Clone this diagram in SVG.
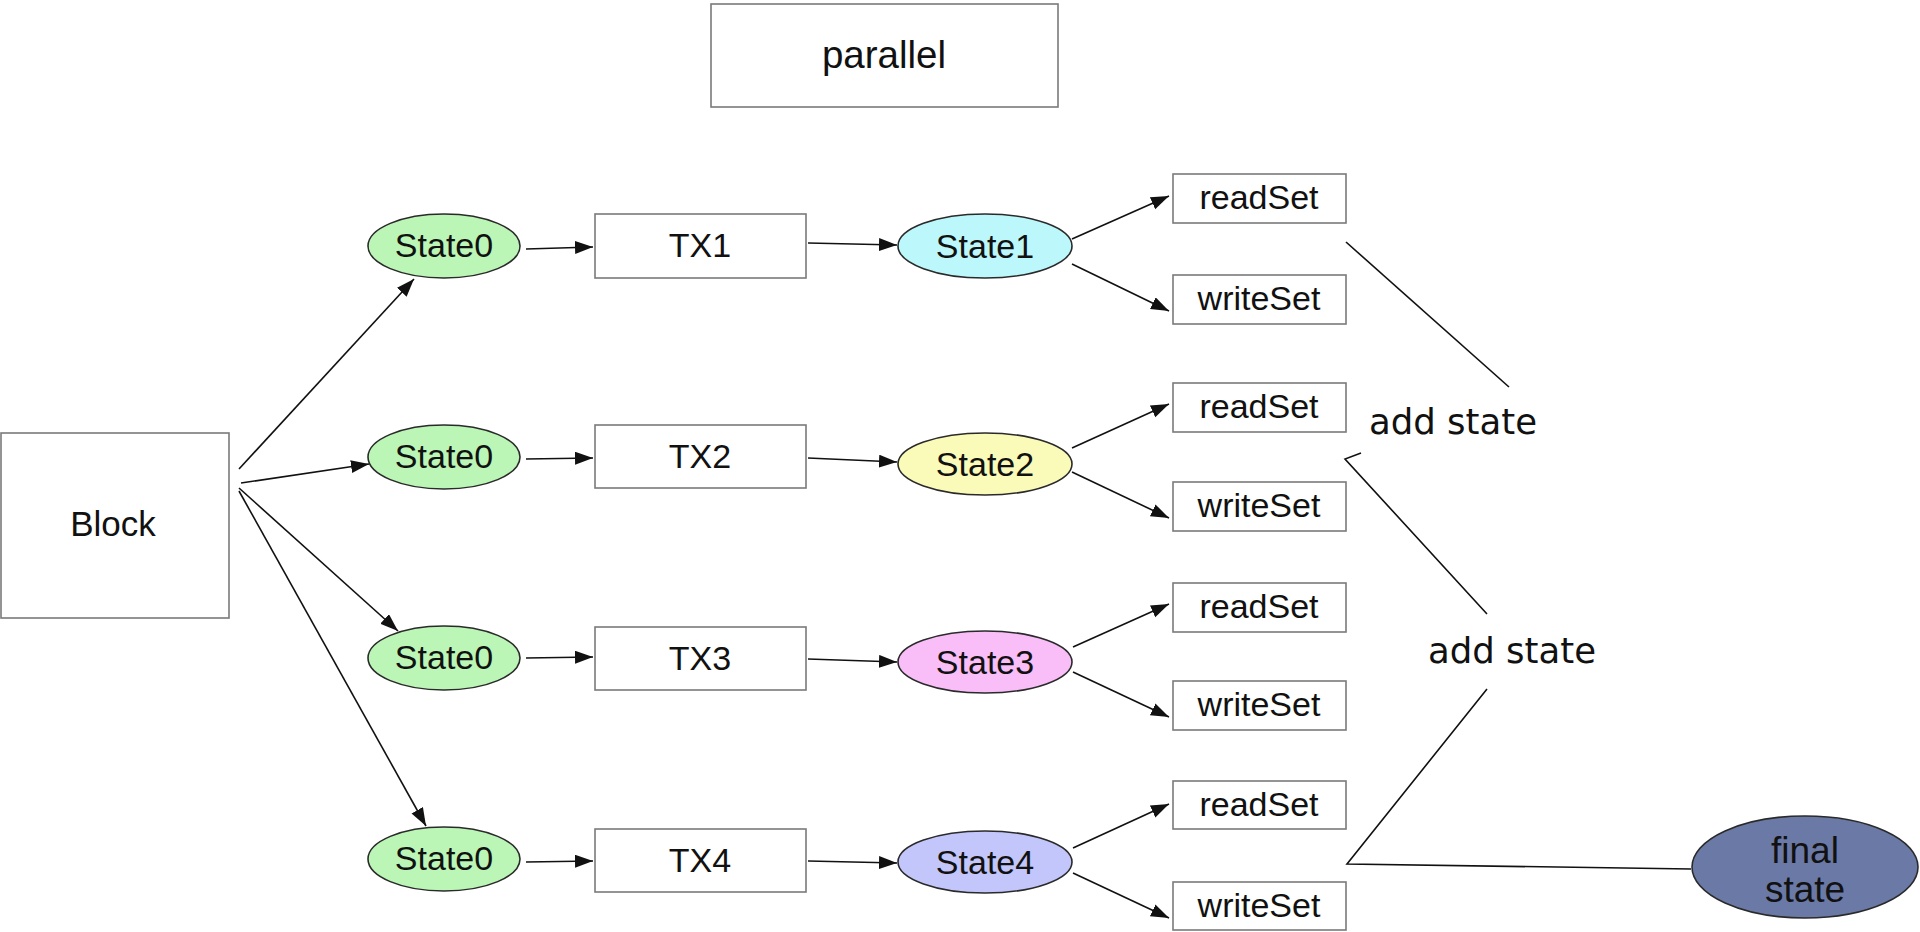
<svg xmlns="http://www.w3.org/2000/svg" width="1920" height="932" viewBox="0 0 1920 932">
<defs>
<style>
.box{fill:#fff;stroke:#7a7a7a;stroke-width:1.6}
.ell{stroke:#2a2a2a;stroke-width:1.6}
.t{font-family:"Liberation Sans",Arial,Helvetica,sans-serif;font-size:34px;fill:#111;text-anchor:middle}
.big{font-family:"DejaVu Sans","Liberation Sans",sans-serif;font-size:35.5px;fill:#111;text-anchor:middle}
.e{stroke:#111;stroke-width:1.6;fill:none}
.a{stroke:#111;stroke-width:1.6;fill:none;marker-end:url(#arr)}
.s0{fill:#bbf6b6}
.s1{fill:#bcf8fb}
.s2{fill:#fafab9}
.s3{fill:#f9bdf8}
.s4{fill:#c2c6fa}
.fin{fill:#6a79a6}
</style>
<marker id="arr" markerUnits="userSpaceOnUse" markerWidth="19" markerHeight="14" refX="18" refY="6.5" orient="auto">
<path d="M0,0 L18,6.5 L0,13 z" fill="#111"/>
</marker>
</defs>
<rect width="1920" height="932" fill="#fff"/>

<g id="connectors">
<line class="a" x1="239" y1="469" x2="414" y2="279"/>
<line class="a" x1="241" y1="483" x2="369" y2="464"/>
<line class="a" x1="239" y1="488" x2="398" y2="631"/>
<line class="a" x1="239" y1="491" x2="426" y2="826"/>

<line class="a" x1="526" y1="249" x2="593" y2="247"/>
<line class="a" x1="526" y1="459" x2="593" y2="458"/>
<line class="a" x1="526" y1="658" x2="593" y2="657"/>
<line class="a" x1="526" y1="862" x2="593" y2="861"/>

<line class="a" x1="808" y1="243" x2="897" y2="245"/>
<line class="a" x1="808" y1="458" x2="897" y2="462"/>
<line class="a" x1="808" y1="659" x2="897" y2="662"/>
<line class="a" x1="808" y1="861" x2="897" y2="863"/>

<line class="a" x1="1072" y1="239" x2="1169" y2="196"/>
<line class="a" x1="1072" y1="264" x2="1169" y2="311"/>
<line class="a" x1="1072" y1="448" x2="1169" y2="404"/>
<line class="a" x1="1072" y1="472" x2="1169" y2="518"/>
<line class="a" x1="1073" y1="647" x2="1169" y2="604"/>
<line class="a" x1="1073" y1="672" x2="1169" y2="717"/>
<line class="a" x1="1073" y1="848" x2="1169" y2="804"/>
<line class="a" x1="1073" y1="873" x2="1169" y2="918"/>

<line class="e" x1="1346" y1="242" x2="1509" y2="387"/>
<polyline class="e" points="1361,453 1345,459 1487,614"/>
<polyline class="e" points="1487,689 1347,864 1691,869"/>
</g>

<g id="parallel"><rect class="box" x="711" y="4" width="347" height="103"/><text x="884" y="68" class="t" style="font-size:38.5px">parallel</text></g>
<g id="block"><rect class="box" x="1" y="433" width="228" height="185"/><text x="113" y="536" class="t" style="font-size:35px">Block</text></g>

<g id="s0a"><ellipse class="ell s0" cx="444" cy="246" rx="76" ry="32"/><text x="444" y="257" class="t">State0</text></g>
<g id="s0b"><ellipse class="ell s0" cx="444" cy="457" rx="76" ry="32"/><text x="444" y="468" class="t">State0</text></g>
<g id="s0c"><ellipse class="ell s0" cx="444" cy="658" rx="76" ry="32"/><text x="444" y="669" class="t">State0</text></g>
<g id="s0d"><ellipse class="ell s0" cx="444" cy="859" rx="76" ry="32"/><text x="444" y="870" class="t">State0</text></g>

<g id="tx1"><rect class="box" x="595" y="214" width="211" height="64"/><text x="700" y="257" class="t">TX1</text></g>
<g id="tx2"><rect class="box" x="595" y="425" width="211" height="63"/><text x="700" y="468" class="t">TX2</text></g>
<g id="tx3"><rect class="box" x="595" y="627" width="211" height="63"/><text x="700" y="670" class="t">TX3</text></g>
<g id="tx4"><rect class="box" x="595" y="829" width="211" height="63"/><text x="700" y="872" class="t">TX4</text></g>

<g id="state1"><ellipse class="ell s1" cx="985" cy="246" rx="87" ry="32"/><text x="985" y="258" class="t">State1</text></g>
<g id="state2"><ellipse class="ell s2" cx="985" cy="464" rx="87" ry="31"/><text x="985" y="476" class="t">State2</text></g>
<g id="state3"><ellipse class="ell s3" cx="985" cy="662" rx="87" ry="31"/><text x="985" y="674" class="t">State3</text></g>
<g id="state4"><ellipse class="ell s4" cx="985" cy="862" rx="87" ry="31"/><text x="985" y="874" class="t">State4</text></g>

<g id="r1"><rect class="box" x="1173" y="174" width="173" height="49"/><text x="1259" y="209" class="t">readSet</text></g>
<g id="w1"><rect class="box" x="1173" y="275" width="173" height="49"/><text x="1259" y="310" class="t">writeSet</text></g>
<g id="r2"><rect class="box" x="1173" y="383" width="173" height="49"/><text x="1259" y="418" class="t">readSet</text></g>
<g id="w2"><rect class="box" x="1173" y="482" width="173" height="49"/><text x="1259" y="517" class="t">writeSet</text></g>
<g id="r3"><rect class="box" x="1173" y="583" width="173" height="49"/><text x="1259" y="618" class="t">readSet</text></g>
<g id="w3"><rect class="box" x="1173" y="681" width="173" height="49"/><text x="1259" y="716" class="t">writeSet</text></g>
<g id="r4"><rect class="box" x="1173" y="781" width="173" height="48"/><text x="1259" y="816" class="t">readSet</text></g>
<g id="w4"><rect class="box" x="1173" y="882" width="173" height="48"/><text x="1259" y="917" class="t">writeSet</text></g>

<g id="add1"><text x="1453" y="434" class="big">add state</text></g>
<g id="add2"><text x="1512" y="663" class="big">add state</text></g>

<g id="final"><ellipse class="ell fin" cx="1805" cy="867" rx="113" ry="51"/><text x="1805" y="863" class="t" style="font-size:37px">final</text><text x="1805" y="902" class="t" style="font-size:37px">state</text></g>
</svg>
